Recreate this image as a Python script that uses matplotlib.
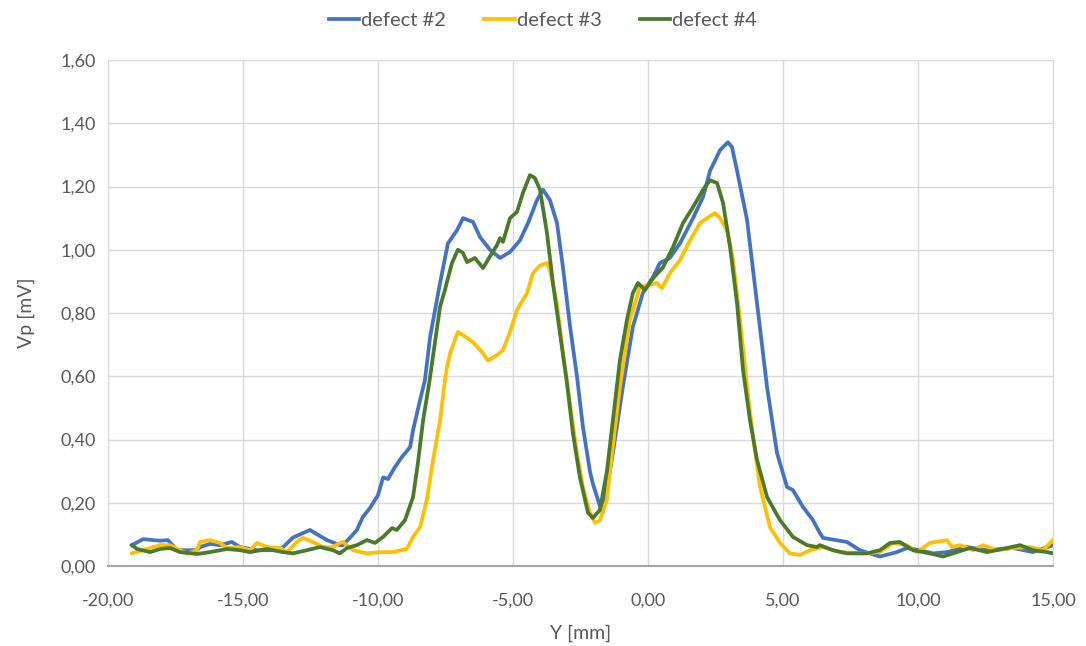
import matplotlib.pyplot as plt
from matplotlib.ticker import FuncFormatter

plt.rcParams["font.family"] = ["Lato", "DejaVu Sans"]

# Y [mm] positions and Vp [mV] values
y2 = [-19.11, -18.70, -18.07, -17.78, -17.44, -16.70, -16.59, -16.22, -15.85, -15.41,
      -15.11, -14.50, -13.63, -13.15, -12.52, -11.89, -11.41, -11.30, -11.04, -10.78,
      -10.56, -10.30, -10.00, -9.81, -9.63, -9.37, -9.11, -8.81, -8.70, -8.44,
      -8.26, -8.07, -7.70, -7.41, -7.07, -6.85, -6.48, -6.22, -5.85, -5.48,
      -5.11, -4.74, -4.44, -4.11, -3.89, -3.63, -3.37, -3.15, -2.89, -2.63,
      -2.41, -2.15, -2.04, -1.78, -1.67, -1.30, -0.93, -0.56, -0.19, 0.19,
      0.44, 0.81, 1.19, 1.67, 2.04, 2.30, 2.67, 2.96, 3.11, 3.30,
      3.67, 4.04, 4.41, 4.78, 5.15, 5.37, 5.74, 6.11, 6.37, 6.48,
      7.37, 7.85, 8.59, 9.22, 9.59, 10.07, 10.56, 11.07, 11.81, 12.56,
      13.52, 14.26, 15.00]
vp2 = [0.066, 0.085, 0.080, 0.082, 0.050, 0.050, 0.060, 0.070, 0.066, 0.076,
       0.060, 0.050, 0.050, 0.090, 0.114, 0.082, 0.066, 0.066, 0.089, 0.114,
       0.155, 0.183, 0.224, 0.280, 0.275, 0.313, 0.345, 0.376, 0.430, 0.525,
       0.588, 0.724, 0.895, 1.020, 1.062, 1.100, 1.088, 1.040, 1.000, 0.974,
       0.993, 1.030, 1.085, 1.157, 1.190, 1.157, 1.085, 0.945, 0.760, 0.600,
       0.440, 0.300, 0.260, 0.190, 0.170, 0.357, 0.566, 0.756, 0.863, 0.914,
       0.958, 0.974, 1.021, 1.100, 1.167, 1.250, 1.315, 1.340, 1.325, 1.250,
       1.094, 0.830, 0.566, 0.357, 0.250, 0.240, 0.187, 0.145, 0.104, 0.089,
       0.076, 0.050, 0.030, 0.044, 0.057, 0.050, 0.040, 0.044, 0.060, 0.050,
       0.057, 0.044, 0.066]

y3 = [-19.11, -18.44, -18.07, -17.70, -17.33, -17.07, -16.70, -16.59, -16.22, -15.85,
      -15.59, -15.11, -14.74, -14.48, -14.11, -13.63, -13.37, -13.00, -12.78, -12.41,
      -12.04, -11.67, -11.41, -11.30, -10.93, -10.41, -9.93, -9.44, -8.93, -8.70,
      -8.44, -8.19, -7.96, -7.70, -7.52, -7.44, -7.33, -7.04, -6.85, -6.48,
      -6.11, -5.93, -5.59, -5.37, -5.11, -4.85, -4.48, -4.26, -4.00, -3.74,
      -3.63, -3.37, -3.15, -2.89, -2.63, -2.41, -2.15, -1.96, -1.78, -1.52,
      -1.41, -1.04, -0.67, -0.30, 0.07, 0.33, 0.52, 0.81, 1.19, 1.56,
      1.93, 2.19, 2.48, 2.67, 2.93, 3.15, 3.41, 3.67, 3.89, 4.15,
      4.52, 4.89, 5.26, 5.63, 6.00, 6.48, 7.11, 7.96, 8.59, 9.07,
      9.59, 9.96, 10.44, 11.07, 11.26, 11.56, 12.04, 12.41, 12.93, 13.52,
      14.15, 14.63, 15.00]
vp3 = [0.040, 0.057, 0.066, 0.066, 0.050, 0.040, 0.050, 0.076, 0.082, 0.073,
       0.057, 0.060, 0.050, 0.073, 0.060, 0.057, 0.044, 0.076, 0.089, 0.076,
       0.060, 0.060, 0.073, 0.076, 0.050, 0.040, 0.044, 0.044, 0.054, 0.092,
       0.123, 0.209, 0.335, 0.460, 0.588, 0.630, 0.673, 0.740, 0.730, 0.708,
       0.673, 0.650, 0.667, 0.683, 0.740, 0.810, 0.863, 0.926, 0.950, 0.958,
       0.936, 0.830, 0.673, 0.515, 0.357, 0.250, 0.168, 0.136, 0.145, 0.209,
       0.300, 0.566, 0.778, 0.882, 0.889, 0.895, 0.879, 0.926, 0.968, 1.030,
       1.085, 1.100, 1.116, 1.100, 1.062, 0.968, 0.778, 0.566, 0.410, 0.250,
       0.123, 0.073, 0.040, 0.035, 0.050, 0.060, 0.044, 0.040, 0.044, 0.073,
       0.066, 0.044, 0.073, 0.082, 0.060, 0.066, 0.050, 0.066, 0.050, 0.057,
       0.060, 0.050, 0.082]

y4 = [-19.11, -18.93, -18.44, -18.07, -17.70, -17.33, -16.70, -16.22, -15.59, -15.11,
      -14.74, -14.11, -13.52, -13.15, -12.63, -12.15, -11.67, -11.41, -11.15, -10.78,
      -10.41, -10.11, -9.81, -9.48, -9.30, -9.00, -8.70, -8.52, -8.33, -8.10,
      -7.70, -7.52, -7.26, -7.04, -6.85, -6.70, -6.41, -6.11, -5.93, -5.59,
      -5.48, -5.37, -5.11, -4.85, -4.63, -4.37, -4.19, -4.00, -3.74, -3.52,
      -3.26, -3.00, -2.78, -2.52, -2.22, -2.04, -1.78, -1.52, -1.30, -1.04,
      -0.78, -0.56, -0.37, -0.11, 0.19, 0.56, 0.93, 1.30, 1.67, 2.04,
      2.30, 2.56, 2.78, 3.04, 3.30, 3.52, 3.78, 4.04, 4.41, 4.89,
      5.37, 5.89, 6.26, 6.37, 6.85, 7.37, 8.11, 8.59, 8.96, 9.33,
      9.81, 10.44, 10.93, 11.44, 11.93, 12.56, 13.30, 13.78, 14.26, 14.78,
      15.00]
vp4 = [0.066, 0.054, 0.044, 0.054, 0.057, 0.044, 0.038, 0.044, 0.054, 0.050,
       0.044, 0.054, 0.044, 0.040, 0.050, 0.060, 0.050, 0.040, 0.057, 0.066,
       0.082, 0.073, 0.092, 0.120, 0.114, 0.145, 0.218, 0.326, 0.460, 0.580,
       0.820, 0.873, 0.958, 1.000, 0.990, 0.961, 0.974, 0.942, 0.968, 1.015,
       1.037, 1.025, 1.100, 1.120, 1.180, 1.236, 1.227, 1.190, 1.053, 0.895,
       0.737, 0.579, 0.420, 0.280, 0.168, 0.152, 0.177, 0.300, 0.460, 0.650,
       0.778, 0.863, 0.895, 0.873, 0.910, 0.945, 1.009, 1.085, 1.135, 1.190,
       1.220, 1.211, 1.148, 1.009, 0.830, 0.620, 0.460, 0.335, 0.218, 0.145,
       0.092, 0.066, 0.060, 0.066, 0.050, 0.040, 0.040, 0.050, 0.073, 0.076,
       0.050, 0.040, 0.030, 0.044, 0.057, 0.044, 0.057, 0.066, 0.050, 0.044,
       0.040]

labels = ["defect #2", "defect #3", "defect #4"]
colors = ["#4472C4", "#FFC000", "#4A7A2A"]

fig = plt.figure(figsize=(10.86, 6.46), dpi=100)
ax = fig.add_axes([0.0994, 0.1238, 0.8702, 0.7833])

for xs, ys, lab, c in zip([y2, y3, y4], [vp2, vp3, vp4], labels, colors):
    ax.plot(xs, ys, color=c, lw=2.7, label=lab, solid_joinstyle="round")

ax.set_xlim(-20, 15)
ax.set_ylim(0, 1.6)
ax.set_xticks(range(-20, 16, 5))
ax.set_yticks([i * 0.2 for i in range(9)])

comma = lambda v, p: f"{v:.2f}".replace(".", ",")
ax.xaxis.set_major_formatter(FuncFormatter(comma))
ax.yaxis.set_major_formatter(FuncFormatter(comma))

ax.grid(True, color="#D9D9D9", lw=1)
ax.set_axisbelow(True)
ax.tick_params(length=0, labelsize=13, labelcolor="#595959")
ax.tick_params(axis="x", pad=19)
ax.tick_params(axis="y", pad=9)
for s in ["top", "right", "left"]:
    ax.spines[s].set_color("#D9D9D9")
ax.spines["bottom"].set_color("#A6A6A6")
ax.spines["bottom"].set_linewidth(1.5)

ax.set_xlabel("Y [mm]", fontsize=14, color="#595959", labelpad=12)
ax.set_ylabel("Vp [mV]", fontsize=14, color="#595959", labelpad=18)

fig.legend(loc="upper center", bbox_to_anchor=(0.5, 1.0), ncol=3, frameon=False,
           fontsize=14.5, labelcolor="#595959", handlelength=1.5, handletextpad=0.1,
           columnspacing=1.9, borderaxespad=0.2)

fig.savefig("out.png", dpi=100)
